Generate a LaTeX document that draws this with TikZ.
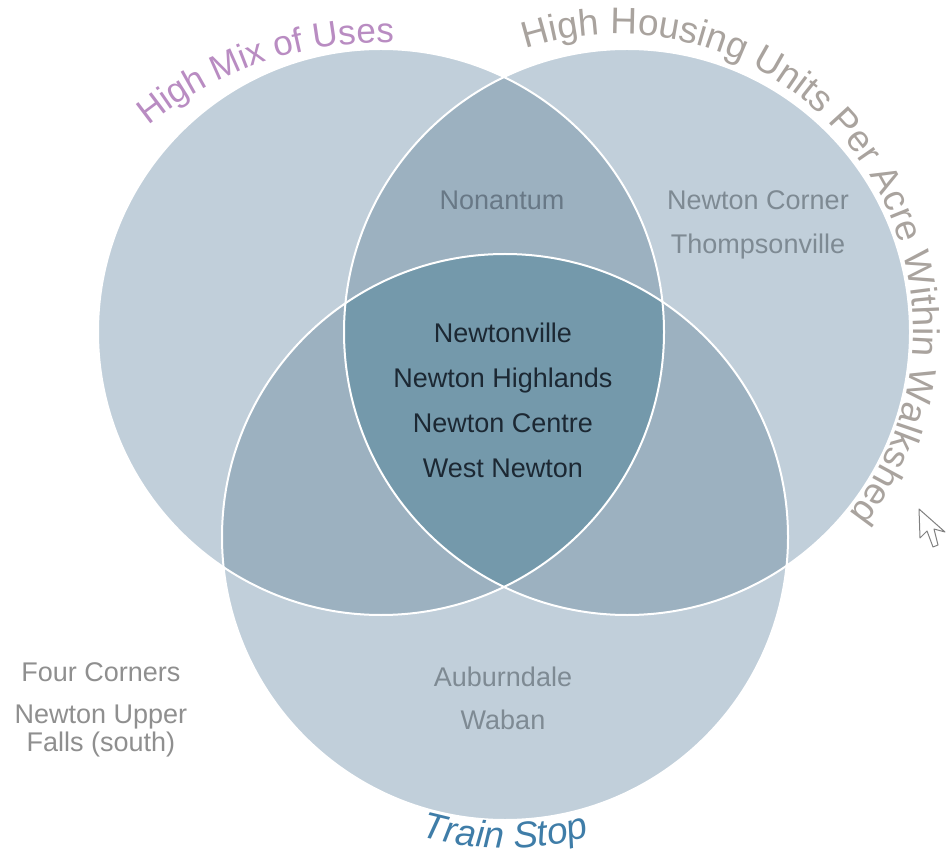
\documentclass[tikz,border=0pt]{standalone}
\usepackage{fontspec}
\setmainfont{Liberation Sans}
\usetikzlibrary{decorations.text}

\definecolor{setlight}{HTML}{C1CFDA}
\definecolor{setmid}{HTML}{9CB1C0}
\definecolor{setdark}{HTML}{7499AB}
\definecolor{mixcol}{HTML}{B98CC2}
\definecolor{housecol}{HTML}{A9A39E}
\definecolor{traincol}{HTML}{3F7DA8}
\definecolor{pairtext}{HTML}{687886}
\definecolor{onetext}{HTML}{7E8A93}
\definecolor{coretext}{HTML}{1C2833}
\definecolor{outtext}{HTML}{8F8F8F}

\newcommand{\placefont}{\fontsize{27}{45}\selectfont}
\newcommand{\setfont}{\fontsize{37}{37}\selectfont}

\begin{document}
\begin{tikzpicture}[x=1pt, y=1pt,
    place/.style={align=center, font=\placefont, inner sep=0pt},
    ring/.style={draw=white, line width=2pt},
    setlabel/.style={decorate, decoration={text along path, text align=left}}
]
\useasboundingbox (0,0) rectangle (952,863);
\fill[white] (0,0) rectangle (952,863);

% --- 1. THE THREE SETS ---
\coordinate (mix) at (381,531);
\coordinate (housing) at (627,531);
\coordinate (train) at (505,326);

% single sets
\fill[setlight] (mix) circle (283);
\fill[setlight] (housing) circle (283);
\fill[setlight] (train) circle (283);

% pairs
\begin{scope}
    \clip (mix) circle (283);
    \fill[setmid] (housing) circle (283);
    \fill[setmid] (train) circle (283);
\end{scope}
\begin{scope}
    \clip (housing) circle (283);
    \fill[setmid] (train) circle (283);
\end{scope}

% all three
\begin{scope}
    \clip (mix) circle (283);
    \clip (housing) circle (283);
    \fill[setdark] (train) circle (283);
\end{scope}

% white borders
\draw[ring] (mix) circle (283);
\draw[ring] (housing) circle (283);
\draw[ring] (train) circle (283);

% --- 2. SET NAMES (along the rims) ---
\coordinate (mixarc) at (381,450);
\coordinate (housearc) at (617,533);
\path[setlabel, decoration={text={|\fontsize{35}{35}\selectfont\color{mixcol}|High Mix of Uses}}]
    ([shift={(129:370)}]mixarc) arc[start angle=129, end angle=75, radius=370];
\path[setlabel, decoration={text={|\setfont\color{housecol}|High Housing Units Per Acre Within Walkshed}}]
    ([shift={(108:296)}]housearc) arc[start angle=108, end angle=-50, radius=296];
\path[setlabel, decoration={text align=center, text={|\setfont\itshape\color{traincol}|Train Stop}}]
    ([shift={(235:311)}]train) arc[start angle=235, end angle=305, radius=311];

% --- 3. PLACES ---
\node[place, text=pairtext] (nonantum) at (502,663) {Nonantum};
\node[place, text=onetext, font=\fontsize{27}{44}\selectfont] (corner) at (758,638) {Newton Corner\\Thompsonville};
\node[place, text=coretext] (core) at (503,463) {Newtonville\\Newton Highlands\\Newton Centre\\West Newton};
\node[place, text=onetext, font=\fontsize{27}{43}\selectfont] (auburn) at (503,165) {Auburndale\\Waban};
\node[place, text=outtext] (four) at (101,191) {Four Corners};
\node[place, text=outtext, font=\fontsize{27}{28}\selectfont] (upper) at (101,132) {Newton Upper\\Falls (south)};

% mouse pointer
\draw[gray, fill=white, line width=1pt, line join=round]
    (919,354) -- (920,325) -- (927,332) -- (933,316) -- (938,318)
    -- (934,334) -- (945,331) -- cycle;

\end{tikzpicture}
\end{document}
